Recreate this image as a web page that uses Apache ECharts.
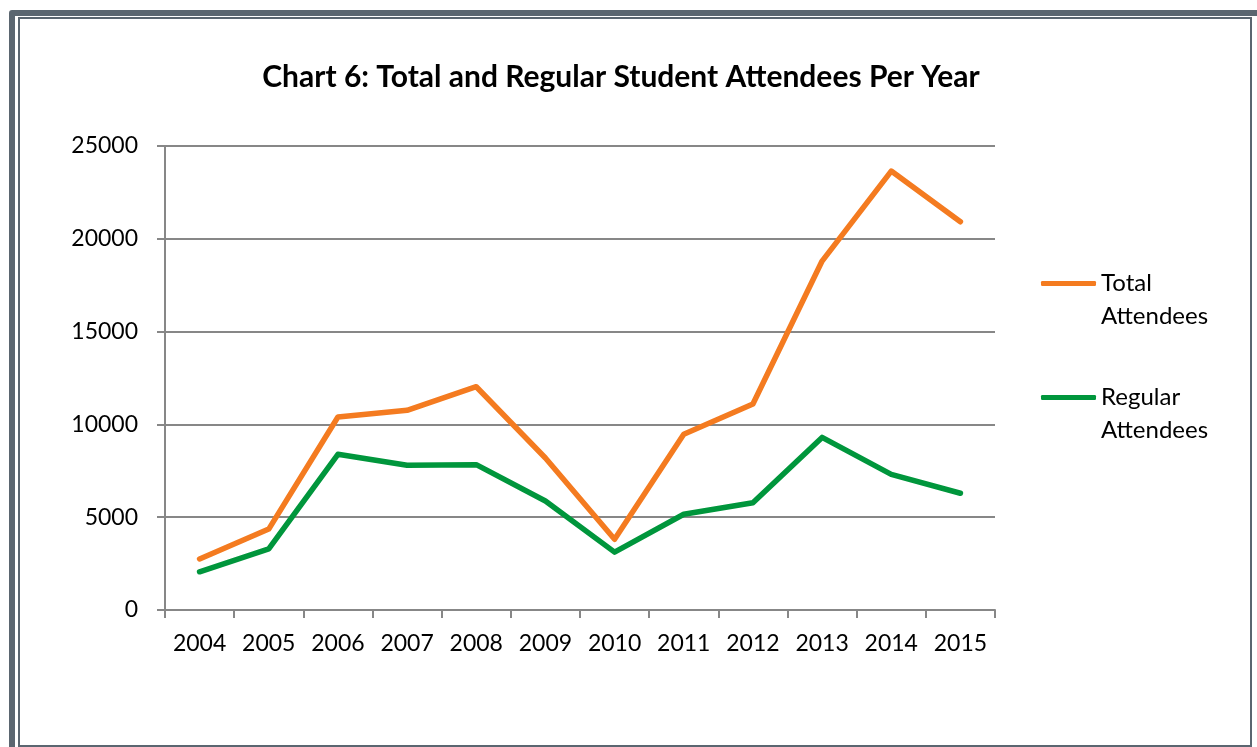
<!DOCTYPE html>
<html>
<head>
<meta charset="utf-8">
<script src="https://cdn.jsdelivr.net/npm/echarts@6/dist/echarts.min.js"></script>
<style>
  html, body { margin: 0; padding: 0; background: #fff; overflow: hidden; }
  #chart { position: absolute; left: 0; top: 0; width: 1257px; height: 747px; }
  .frame-outer { position: absolute; left: 9px; top: 10px; width: 1260px; height: 760px;
    border: 6px solid #5b6670; border-radius: 3px; box-sizing: border-box; pointer-events: none; }
  .frame-inner { position: absolute; left: 18px; top: 17px; width: 1234px; height: 730px;
    border: 2px solid #5b6670; box-sizing: border-box; pointer-events: none; }
</style>
</head>
<body>
<div id="chart"></div>
<div class="frame-outer"></div>
<div class="frame-inner"></div>
<script>
// chart data
const years = ["2004", "2005", "2006", "2007", "2008", "2009", "2010", "2011", "2012", "2013", "2014", "2015"];
const totalAttendees = [2750, 4360, 10400, 10760, 12030, 8190, 3810, 9470, 11100, 18800, 23650, 20920];
const regularAttendees = [2060, 3290, 8390, 7800, 7830, 5870, 3120, 5160, 5780, 9300, 7310, 6290];
const seriesNames = ["Total Attendees", "Regular Attendees"];
const yTicks = { min: 0, max: 25000, interval: 5000 };

const font = "Lato, 'Open Sans', sans-serif";
const gridColor = "#878787";

const chart = echarts.init(document.getElementById("chart"));

const lineSeries = (name, data, color) => ({
  name: name,
  type: "line",
  data: data,
  symbol: "none",
  smooth: false,
  lineStyle: { color: color, width: 5.5, cap: "round", join: "round" },
  itemStyle: { color: color },
  animation: false
});

chart.setOption({
  backgroundColor: "transparent",
  animation: false,
  textStyle: { fontFamily: font },
  title: {
    text: "Chart 6: Total and Regular Student Attendees Per Year",
    left: 616,
    textAlign: "center",
    top: 57,
    textStyle: { fontFamily: font, fontSize: 30, fontWeight: "bold", color: "#000" }
  },
  legend: {
    orient: "vertical",
    left: 1041,
    top: 234,
    padding: 0,
    itemWidth: 55,
    itemHeight: 5,
    itemGap: 15,
    icon: "roundRect",
    data: seriesNames,
    // blank first line keeps the first word level with the icon
    formatter: (name) => "\u00a0\n" + name.replace(" ", "\n"),
    textStyle: {
      fontFamily: font,
      fontSize: 24,
      lineHeight: 33,
      color: "#000"
    }
  },
  grid: { left: 165, right: 262, top: 146, bottom: 137 },
  xAxis: {
    type: "category",
    data: years,
    boundaryGap: true,
    axisLine: { lineStyle: { color: gridColor, width: 2 } },
    axisTick: { show: true, length: 8, lineStyle: { color: gridColor, width: 2 } },
    axisLabel: { color: "#000", fontSize: 23, fontFamily: font, margin: 22, interval: 0 }
  },
  yAxis: {
    type: "value",
    min: yTicks.min,
    max: yTicks.max,
    interval: yTicks.interval,
    axisLine: { show: true, lineStyle: { color: gridColor, width: 2 } },
    axisTick: { show: true, length: 8, lineStyle: { color: gridColor, width: 2 } },
    axisLabel: { color: "#000", fontSize: 23, fontFamily: font, margin: 27, formatter: (v) => String(v) },
    splitLine: { show: true, lineStyle: { color: gridColor, width: 2 } }
  },
  series: [
    lineSeries(seriesNames[0], totalAttendees, "#f47b20"),
    lineSeries(seriesNames[1], regularAttendees, "#00963c")
  ]
});
</script>
</body>
</html>
